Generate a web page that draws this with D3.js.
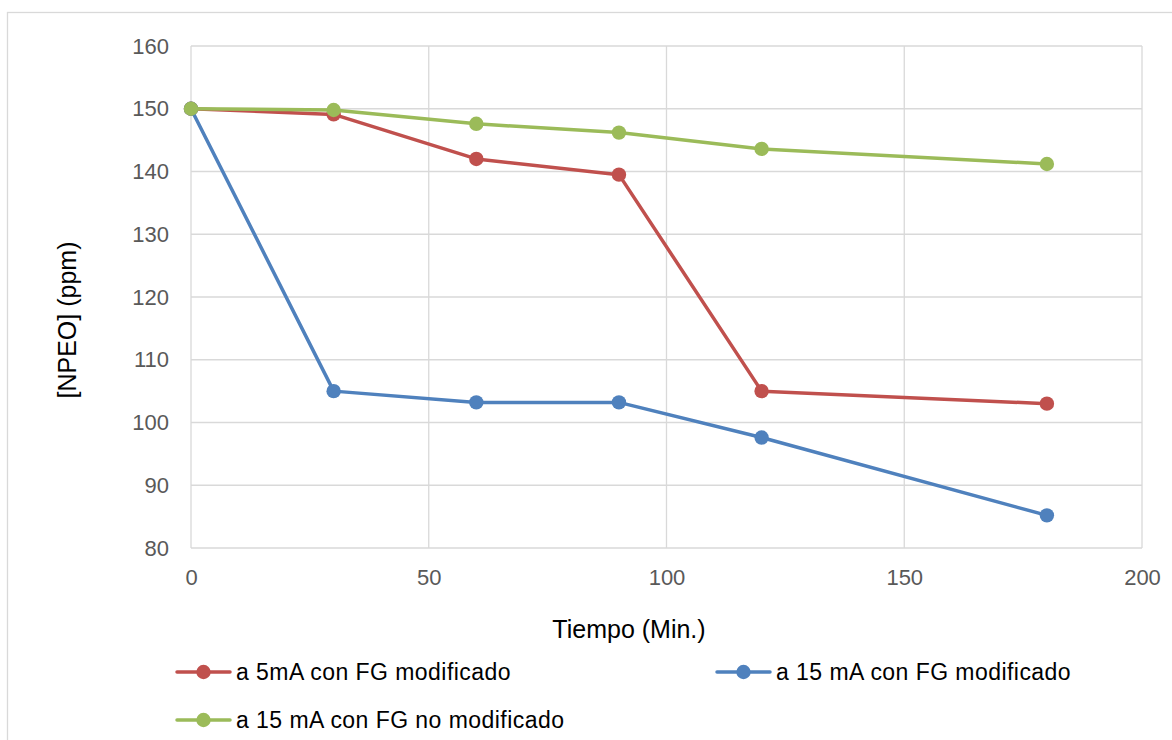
<!DOCTYPE html>
<html>
<head>
<meta charset="utf-8">
<script src="https://cdn.jsdelivr.net/npm/d3@7"></script>
<style>
  html, body { margin: 0; padding: 0; background: #fff; }
  svg { display: block; font-family: "Liberation Sans", Arial, sans-serif; }
</style>
</head>
<body>
<svg id="chart" width="1172" height="740"></svg>
<script>
// Sampling times (minutes)
const times = [0, 30, 60, 90, 120, 180];

// NPEO concentration (ppm) per condition
const red5mA = [150, 149.1, 142.0, 139.5, 105.0, 103.0];
const blue15mA = [150, 105.0, 103.2, 103.2, 97.6, 85.2];
const green15mANoMod = [150, 149.8, 147.6, 146.2, 143.6, 141.2];

const seriesNames = [
  "a 5mA con FG modificado",
  "a 15 mA con FG modificado",
  "a 15 mA con FG no modificado"
];
const seriesColors = ["#C0504D", "#4F81BD", "#9BBB59"];

const xTicks = [0, 50, 100, 150, 200];
const yTicks = [80, 90, 100, 110, 120, 130, 140, 150, 160];

const svg = d3.select("#chart");

// Outer chart frame
svg.append("rect")
  .attr("x", 7.5).attr("y", 12.5)
  .attr("width", 1180).attr("height", 740)
  .attr("fill", "#fff")
  .attr("stroke", "#d9d9d9").attr("stroke-width", 1.3);

const plot = { left: 191, right: 1142, top: 46, bottom: 548 };

const x = d3.scaleLinear().domain([0, 200]).range([plot.left, plot.right]);
const y = d3.scaleLinear().domain([80, 160]).range([plot.bottom, plot.top]);

// Gridlines
const grid = svg.append("g");
grid.selectAll("line.h").data(yTicks).join("line")
  .attr("class", "h")
  .attr("x1", plot.left).attr("x2", plot.right)
  .attr("y1", d => y(d)).attr("y2", d => y(d))
  .attr("stroke", "#d9d9d9").attr("stroke-width", 1.3);
grid.selectAll("line.v").data(xTicks).join("line")
  .attr("class", "v")
  .attr("y1", plot.top).attr("y2", plot.bottom)
  .attr("x1", d => x(d)).attr("x2", d => x(d))
  .attr("stroke", "#d9d9d9").attr("stroke-width", 1.3);

// Axes (labels only, lines come from the grid)
const yAxis = svg.append("g")
  .attr("transform", `translate(${plot.left - 10},0)`)
  .call(d3.axisLeft(y).tickValues(yTicks).tickSize(0).tickPadding(12));
yAxis.select(".domain").remove();
yAxis.selectAll("text")
  .attr("fill", "#595959").attr("font-size", 22)
  .attr("font-family", "Liberation Sans, Arial, sans-serif");

const xAxis = svg.append("g")
  .attr("transform", `translate(0,${plot.bottom})`)
  .call(d3.axisBottom(x).tickValues(xTicks).tickSize(0).tickPadding(0));
xAxis.select(".domain").remove();
xAxis.selectAll("text")
  .attr("y", 37).attr("dy", null)
  .attr("fill", "#595959").attr("font-size", 22)
  .attr("font-family", "Liberation Sans, Arial, sans-serif");

// Axis titles
svg.append("text")
  .attr("x", 629).attr("y", 638)
  .attr("text-anchor", "middle")
  .attr("font-size", 25).attr("fill", "#000")
  .text("Tiempo (Min.)");
svg.append("text")
  .attr("transform", `translate(76,320) rotate(-90)`)
  .attr("text-anchor", "middle")
  .attr("font-size", 25).attr("fill", "#000")
  .text("[NPEO] (ppm)");

// Series
const allSeries = [red5mA, blue15mA, green15mANoMod].map((vals, i) => ({
  name: seriesNames[i],
  color: seriesColors[i],
  points: times.map((t, j) => ({ t, v: vals[j] }))
}));

const line = d3.line().x(d => x(d.t)).y(d => y(d.v));

allSeries.forEach(s => {
  const g = svg.append("g");
  g.append("path")
    .datum(s.points)
    .attr("d", line)
    .attr("fill", "none")
    .attr("stroke", s.color)
    .attr("stroke-width", 3.5)
    .attr("stroke-linejoin", "round")
    .attr("stroke-linecap", "round");
  g.selectAll("circle").data(s.points).join("circle")
    .attr("cx", d => x(d.t)).attr("cy", d => y(d.v))
    .attr("r", 7.2)
    .attr("fill", s.color);
});

// Legend
const legendPos = [
  { x: 177, y: 672 },
  { x: 717, y: 672 },
  { x: 177, y: 720 }
];
allSeries.forEach((s, i) => {
  const p = legendPos[i];
  const g = svg.append("g").attr("transform", `translate(${p.x},${p.y})`);
  g.append("line")
    .attr("x1", 0).attr("x2", 53).attr("y1", 0).attr("y2", 0)
    .attr("stroke", s.color).attr("stroke-width", 3.5)
    .attr("stroke-linecap", "round");
  g.append("circle").attr("cx", 26.5).attr("cy", 0).attr("r", 7.2).attr("fill", s.color);
  g.append("text")
    .attr("x", 59).attr("y", 0).attr("dy", "0.35em")
    .attr("font-size", 23).attr("letter-spacing", 0.45).attr("fill", "#000")
    .text(s.name);
});
</script>
</body>
</html>
